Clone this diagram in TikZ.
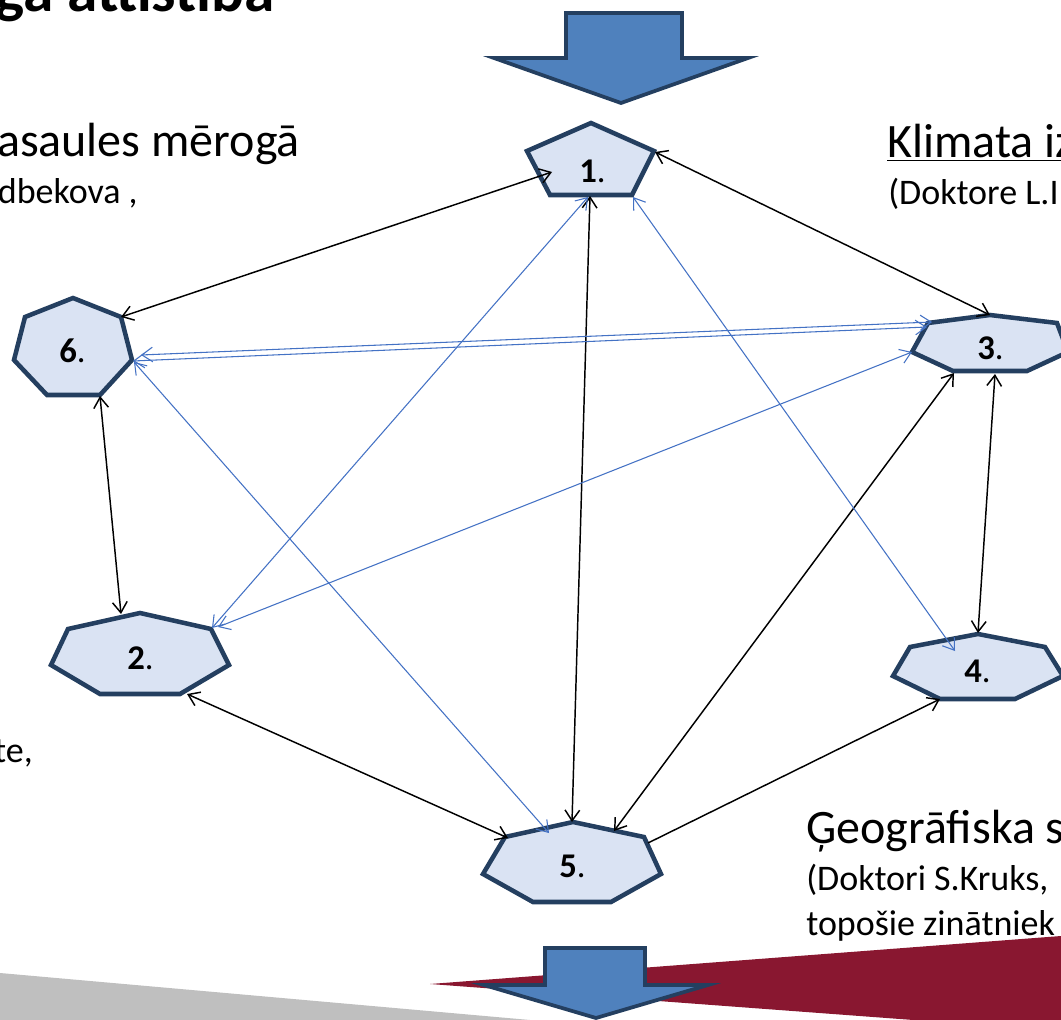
\documentclass[tikz,border=0pt]{standalone}
\usepackage{fontspec}
\setmainfont{Carlito}
\usetikzlibrary{arrows.meta}
\definecolor{nodefill}{HTML}{DAE3F3}
\definecolor{nodeline}{HTML}{243F60}
\definecolor{arrowfill}{HTML}{4F81BD}
\definecolor{linkblue}{HTML}{4472C4}
\definecolor{bandred}{HTML}{891730}
\definecolor{bandgrey}{HTML}{BFBFBF}
\begin{document}
\begin{tikzpicture}[x=0.75pt,y=-0.75pt,
  polyshape/.style={draw=nodeline,fill=nodefill,line width=3.4pt,line join=miter},
  bigarrow/.style={draw=nodeline,fill=arrowfill,line width=2.8pt,line join=miter,miter limit=10},
  barb/.tip={Straight Barb[length=8pt,width=11pt]},
  klink/.style={draw=black,line width=1.1pt,barb-barb},
  klinkone/.style={draw=black,line width=1.1pt,-barb},
  blink/.style={draw=linkblue,line width=0.8pt,barb-barb},
  lbl/.style={font=\fontsize{26}{30}\selectfont,anchor=base west,inner sep=0pt},
  bigtext/.style={font=\fontsize{36}{43}\selectfont,inner sep=0pt},
  smalltext/.style={font=\fontsize{27}{32}\selectfont,inner sep=0pt}]
\useasboundingbox (0,0) rectangle (1061,1020);
\clip (0,0) rectangle (1061,1020);

% background bands
\fill[bandgrey] (0,973) -- (530,1020) -- (0,1020) -- cycle;
\fill[bandred] (430,984) -- (1061,936) -- (1061,1031) -- cycle;

% big arrows
\draw[bigarrow] (566,13) -- (682,13) -- (682,58) -- (748,58) -- (621,103) -- (494,58) -- (566,58) -- cycle;
\draw[bigarrow] (545,948) -- (645,948) -- (645,985) -- (708,985) -- (596,1018) -- (484,985) -- (545,985) -- cycle;

% texts
\node[font=\fontsize{46}{55}\selectfont\bfseries,anchor=base east,inner sep=0pt] (title) at (275,12) {ga attīstība};
\node[bigtext,anchor=base east] (tl1) at (300,157) {asaules mērogā};
\node[smalltext,anchor=base east] (tl2) at (138,204) {dbekova ,};
\node[bigtext,anchor=base west] (tr1) at (887,158) {\underline{Klimata iz}};
\node[smalltext,anchor=base west] (tr2) at (888,205) {(Doktore L.I};
\node[smalltext,anchor=base east] (tml) at (33,762) {te,};
\node[bigtext,anchor=base west] (br1) at (806,843) {Ģeogrāfiska s};
\node[smalltext,anchor=base west] (br2) at (806,890) {(Doktori S.Kruks,};
\node[smalltext,anchor=base west] (br3) at (806,935) {topošie zinātniek};

% node 1 (pentagon)
\draw[polyshape] (591,123) -- (654,151) -- (632,195) -- (550,195) -- (527,151) -- cycle;
% node 6
\draw[polyshape] (73,298) -- (121,317) -- (132,360) -- (100,395) -- (47,395) -- (14,360) -- (25,317) -- cycle;
% node 3
\draw[polyshape] (990,315) -- (1057,323) -- (1068,352) -- (1027,371) -- (953,371) -- (912,352) -- (928,323) -- cycle;
% node 4
\draw[polyshape] (978,634) -- (1045,647) -- (1063,676) -- (1015,699) -- (940,699) -- (893,676) -- (910,647) -- cycle;
% node 2
\draw[polyshape] (140,613) -- (211,629) -- (229,665) -- (180,694) -- (100,694) -- (51,665) -- (68,629) -- cycle;
% node 5
\draw[polyshape] (573,822) -- (644,837) -- (661,874) -- (611,902) -- (533,902) -- (483,874) -- (505,837) -- cycle;

% labels
\node[lbl] (n1) at (579,183) {\textbf{1}.};
\node[lbl] (n6) at (59,362) {\textbf{6}.};
\node[lbl] (n3) at (977,359) {\textbf{3}.};
\node[lbl] (n4) at (964,682) {\textbf{4}.};
\node[lbl] (n2) at (127,669) {\textbf{2}.};
\node[lbl] (n5) at (559,877) {\textbf{5}.};

% connector end points
\coordinate (t1l) at (552,172);
\coordinate (t1r) at (655,152);
\coordinate (t1b) at (590,196);
\coordinate (t6ur) at (121,317);
\coordinate (t6b) at (100,396);
\coordinate (t3t) at (990,315);
\coordinate (t3bl) at (954,373);
\coordinate (t3bm) at (995,374);
\coordinate (t5t) at (572,822);
\coordinate (t5ul) at (508,838);
\coordinate (t5ur) at (614,831);
\coordinate (t5r) at (648,843);
\coordinate (t2t) at (121,614);
\coordinate (t2br) at (187,694);
\coordinate (t4b) at (940,699);
\coordinate (t4t) at (978,633);

\coordinate (u6a) at (141,355);
\coordinate (u3a) at (932,322);
\coordinate (u6b) at (133,361);
\coordinate (u3b) at (927,327);
\coordinate (u6c) at (134,362);
\coordinate (u5) at (549,833);
\coordinate (u1a) at (588,197);
\coordinate (u2a) at (212,628);
\coordinate (u1b) at (633,197);
\coordinate (u4) at (955,651);
\coordinate (u3c) at (912,352);
\coordinate (u2b) at (218,627);

% black connectors
\draw[klink] (t1l) -- (t6ur);
\draw[klink] (t1r) -- (t3t);
\draw[klink] (t1b) -- (t5t);
\draw[klink] (t6b) -- (t2t);
\draw[klink] (t2br) -- (t5ul);
\draw[klink] (t5ur) -- (t3bl);
\draw[klinkone] (t5r) -- (t4b);
\draw[klink] (t3bm) -- (t4t);

% blue connectors
\draw[blink] (u6a) -- (u3a);
\draw[blink] (u6b) -- (u3b);
\draw[blink] (u6c) -- (u5);
\draw[blink] (u1a) -- (u2a);
\draw[blink] (u1b) -- (u4);
\draw[blink] (u3c) -- (u2b);
\end{tikzpicture}
\end{document}
